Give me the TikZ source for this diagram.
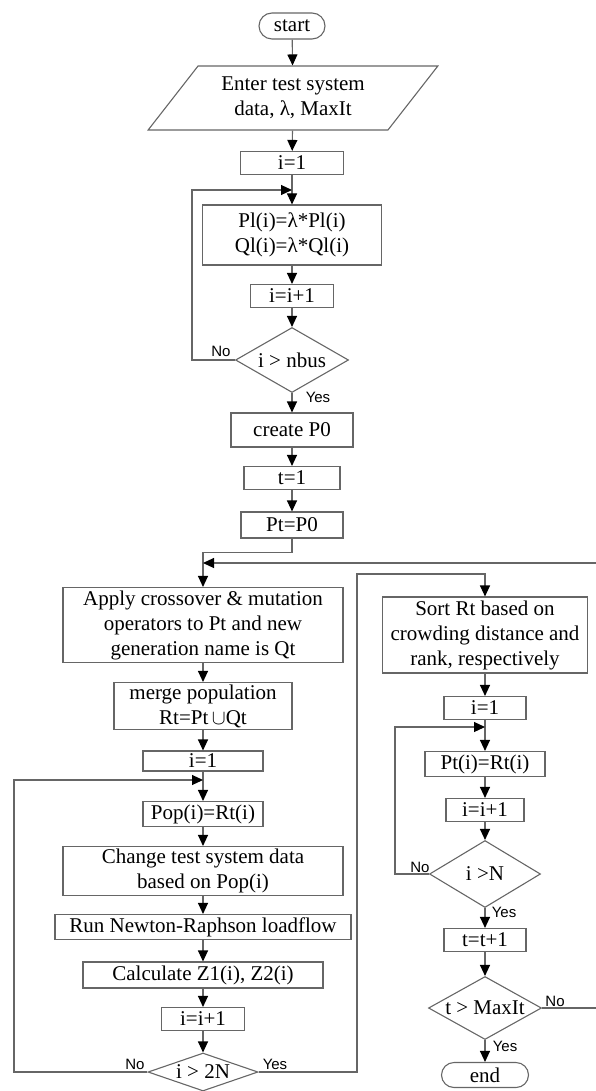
\documentclass[tikz,border=0pt]{standalone}
\usepackage{fontspec}
\setmainfont{Liberation Serif}
\newfontfamily\labelfont{Liberation Sans}
\usetikzlibrary{shapes.geometric,shapes.misc,arrows.meta}

\tikzset{
  box/.style={rectangle,draw=black!60,line width=1.1pt,inner sep=1pt,align=center,font=\fontsize{21}{25}\selectfont},
  term/.style={rounded rectangle,draw=black!60,line width=1.1pt,inner sep=1pt,font=\fontsize{21}{25}\selectfont},
  io/.style={trapezium,trapezium left angle=49,trapezium right angle=131,trapezium stretches=true,draw=black!60,line width=1.1pt,inner sep=1pt,align=center,font=\fontsize{21}{25}\selectfont},
  cond/.style={diamond,draw=black!60,line width=1.1pt,inner sep=0pt,font=\fontsize{21}{25}\selectfont},
  flow/.style={draw=black!60,line width=1.1pt,-{Triangle[length=11pt,width=10pt,color=black]}},
  yesno/.style={inner sep=0pt,font=\labelfont\fontsize{15}{17}\selectfont},
}

\begin{document}
\begin{tikzpicture}[x=1pt,y=-1pt]
\useasboundingbox (0,0) rectangle (596,1091);

% initial part
\node [term,minimum width=68pt,minimum height=26pt] (start) at (292,26) {start};
\node [io,minimum width=290pt,minimum height=64pt] (input) at (293,98) {Enter test system\\data, λ, MaxIt};
\node [box,minimum width=103pt,minimum height=23pt] (init1) at (292,163) {i=1};
\node [box,minimum width=179pt,minimum height=60pt] (scale) at (292,235) {Pl(i)=λ*Pl(i)\\Ql(i)=λ*Ql(i)};
\node [box,minimum width=83pt,minimum height=23pt] (inc1) at (292,296) {i=i+1};
\node [cond,shape aspect=1.7,minimum width=113pt,minimum height=65pt] (chk1) at (292,360) {i > nbus};
\node [box,minimum width=122pt,minimum height=34pt] (create) at (292,430) {create P0};
\node [box,minimum width=96pt,minimum height=23pt] (tinit) at (292,478) {t=1};
\node [box,minimum width=102pt,minimum height=26pt] (pinit) at (292,525) {Pt=P0};

% left column
\node [box,minimum width=280pt,minimum height=75pt] (apply) at (203,625) {Apply crossover \& mutation\\operators to Pt and new\\generation name is Qt};
\node [box,minimum width=178pt,minimum height=47pt] (merge) at (203,706) {merge population\\Rt=Pt\,$\cup$Qt};
\node [box,minimum width=120pt,minimum height=20pt] (init2) at (203,761) {i=1};
\node [box,minimum width=120pt,minimum height=25pt] (pop) at (203,814) {Pop(i)=Rt(i)};
\node [box,minimum width=280pt,minimum height=49pt] (change) at (203,871) {Change test system data\\based on Pop(i)};
\node [box,minimum width=296pt,minimum height=25pt] (run) at (203,927) {Run Newton-Raphson loadflow};
\node [box,minimum width=240pt,minimum height=26pt] (calc) at (203,975) {Calculate Z1(i), Z2(i)};
\node [box,minimum width=83pt,minimum height=23pt] (inc2) at (203,1019) {i=i+1};
\node [cond,shape aspect=2.9,minimum width=110pt,minimum height=38pt] (chk2) at (203,1072) {i > 2N};

% right column
\node [box,minimum width=205pt,minimum height=76pt] (sort) at (485,635) {Sort Rt based on\\crowding distance and\\rank, respectively};
\node [box,minimum width=82pt,minimum height=23pt] (init3) at (485,708) {i=1};
\node [box,minimum width=120pt,minimum height=25pt] (copy) at (485,764) {Pt(i)=Rt(i)};
\node [box,minimum width=78pt,minimum height=23pt] (inc3) at (485,810) {i=i+1};
\node [cond,shape aspect=1.65,minimum width=111pt,minimum height=67pt] (chk3) at (485,874) {i >N};
\node [box,minimum width=82pt,minimum height=23pt] (tinc) at (485,940) {t=t+1};
\node [cond,shape aspect=1.8,minimum width=113pt,minimum height=63pt] (chk4) at (485,1008) {t > MaxIt};
\node [term,minimum width=89pt,minimum height=25pt] (end) at (485,1075) {end};

% branch labels
\node [yesno] (no1) at (221,351) {No};
\node [yesno] (yes1) at (318,397) {Yes};
\node [yesno] (no2) at (135,1064) {No};
\node [yesno] (yes2) at (275,1064) {Yes};
\node [yesno] (no3) at (420,867) {No};
\node [yesno] (yes3) at (504,912) {Yes};
\node [yesno] (no4) at (555,1001) {No};
\node [yesno] (yes4) at (505,1046) {Yes};

\coordinate (loop1) at (192,190);
\coordinate (loop2) at (14,780);
\coordinate (loop3) at (395,727);

\draw [flow] (start) -- (input);
\draw [flow] (input) -- (init1);
\draw [flow] (init1) -- (scale);
\draw [flow] (scale) -- (inc1);
\draw [flow] (inc1) -- (chk1);
\draw [flow] (chk1.west) -| (loop1) -- (loop1 -| scale.north);
\draw [flow] (chk1) -- (create);
\draw [flow] (create) -- (tinit);
\draw [flow] (tinit) -- (pinit);
\draw [flow] (pinit.south) -- ++(0,14) -| (apply.north);

\draw [flow] (apply) -- (merge);
\draw [flow] (merge) -- (init2);
\draw [flow] (init2) -- (pop);
\draw [flow] (pop) -- (change);
\draw [flow] (change) -- (run);
\draw [flow] (run) -- (calc);
\draw [flow] (calc) -- (inc2);
\draw [flow] (inc2) -- (chk2);
\draw [flow] (chk2.west) -| (loop2) -- (loop2 -| pop.north);
\draw [flow] (chk2.east) -| (357,574) -| (sort.north);

\draw [flow] (sort) -- (init3);
\draw [flow] (init3) -- (copy);
\draw [flow] (copy) -- (inc3);
\draw [flow] (inc3) -- (chk3);
\draw [flow] (chk3.west) -| (loop3) -- (loop3 -| copy.north);
\draw [flow] (chk3) -- (tinc);
\draw [flow] (tinc) -- (chk4);
\draw [flow] (chk4) -- (end);
\draw [flow] (chk4.east) -- ++(75,0) |- (apply.north |- 0,563);
\end{tikzpicture}
\end{document}
